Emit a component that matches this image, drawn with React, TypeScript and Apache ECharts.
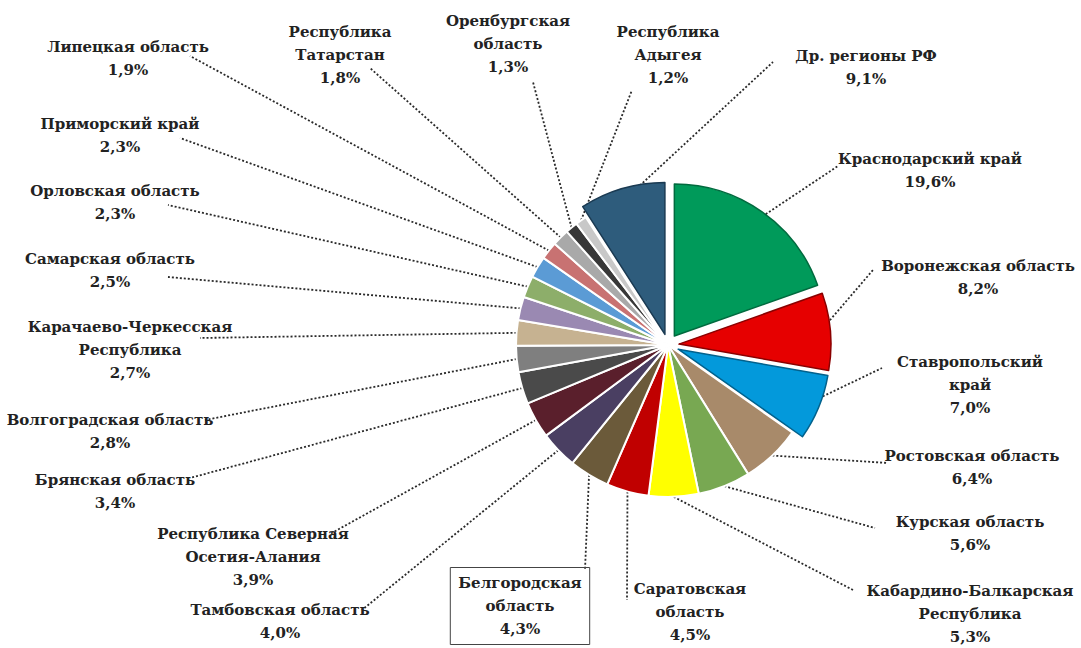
import React, { useEffect, useRef } from 'react';
import * as echarts from 'echarts';

const regions: string[] = [
  'Краснодарский край',
  'Воронежская область',
  'Ставропольский\nкрай',
  'Ростовская область',
  'Курская область',
  'Кабардино-Балкарская\nРеспублика',
  'Саратовская\nобласть',
  'Белгородская\nобласть',
  'Тамбовская область',
  'Республика Северная\nОсетия-Алания',
  'Брянская область',
  'Волгоградская область',
  'Карачаево-Черкесская\nРеспублика',
  'Самарская область',
  'Орловская область',
  'Приморский край',
  'Липецкая область',
  'Республика\nТатарстан',
  'Оренбургская\nобласть',
  'Республика\nАдыгея',
  'Др. регионы РФ',
];

const shares: number[] = [
  19.6, 8.2, 7.0, 6.4, 5.6, 5.3, 4.5, 4.3, 4.0, 3.9, 3.4, 2.8, 2.7, 2.5, 2.3, 2.3, 1.9, 1.8, 1.3, 1.2, 9.1,
];

const sliceColors: string[] = [
  '#009a5a', '#e60000', '#0399db', '#a88a6a', '#78a852', '#ffff00', '#c00000', '#6b5a3a',
  '#4a3f62', '#5a1f2c', '#4a4a4a', '#7f7f7f', '#c6b291', '#9a89b2', '#8dae6a', '#5b9bd5',
  '#c87272', '#a9a9a9', '#383838', '#c8c8c8', '#2e5c7c',
];

const edgeColors: string[] = ['#006a3e', '#8a0000', '#02618c', '', '', '', '', '', '', '', '', '', '', '', '', '', '', '', '', '', '#1a3a52'];

const explodedSlices: number[] = [0, 1, 2, 20];

// label block centre (x, y) and leader end point (x, y), in pixels
const labelSpots: number[][] = [
  [930, 170, 838, 166],
  [978, 277, 873, 270],
  [970, 385, 882, 368],
  [972, 467, 888, 463],
  [970, 533, 875, 528],
  [970, 614, 853, 590],
  [690, 612, 627, 600],
  [520, 606, 585, 570],
  [280, 621, 362, 610],
  [253, 557, 330, 534],
  [115, 491, 190, 478],
  [110, 431, 205, 420],
  [130, 350, 200, 338],
  [110, 270, 168, 277],
  [115, 202, 168, 205],
  [120, 135, 180, 138],
  [128, 58, 190, 56],
  [340, 55, 370, 68],
  [508, 44, 533, 82],
  [668, 55, 632, 90],
  [866, 67, 773, 62],
];

const fmt = (v: number) => v.toFixed(1).replace('.', ',') + '%';

const FONT = 'DejaVu Serif';

export default function App() {
  const ref = useRef<HTMLDivElement>(null);
  useEffect(() => {
    const chart = echarts.init(ref.current as HTMLDivElement, null, { renderer: 'svg' });
    const sliceData = regions.map((name, i) => {
      const exploded = explodedSlices.includes(i);
      const itemStyle = exploded
        ? { color: sliceColors[i], borderColor: edgeColors[i], borderWidth: 1.5 }
        : { color: sliceColors[i], borderColor: '#ffffff', borderWidth: 2 };
      return { name, value: shares[i], selected: exploded, itemStyle, select: { itemStyle } };
    });
    const labelData = regions.map((name, i) => ({
      name,
      value: shares[i],
      itemStyle: { color: 'rgba(0,0,0,0)', borderWidth: 0 },
      label:
        i === 7
          ? { borderColor: '#444', borderWidth: 1, padding: [5, 8, 3, 8] }
          : undefined,
    }));
    chart.setOption({
      animation: false,
      backgroundColor: '#ffffff',
      textStyle: { fontFamily: FONT },
      series: [
        {
          type: 'pie',
          z: 1,
          silent: true,
          center: [668, 345],
          radius: 152,
          startAngle: 90,
          clockwise: true,
          avoidLabelOverlap: false,
          emphasis: { disabled: true },
          label: {
            show: true,
            position: 'outside',
            formatter: (p: any) => `${p.name}\n${fmt(p.value)}`,
            fontFamily: FONT,
            fontWeight: 'bold',
            fontSize: 15,
            lineHeight: 23,
            color: '#222',
            align: 'center',
          },
          labelLine: {
            show: true,
            length: 10,
            length2: 10,
            lineStyle: { color: '#2a2a2a', width: 1.8, type: [2, 2] },
          },
          labelLayout: (params: any) => {
            const s = labelSpots[params.dataIndex];
            const start = params.labelLinePoints ? params.labelLinePoints[0] : [s[2], s[3]];
            return {
              x: s[0],
              y: s[1],
              align: 'center',
              verticalAlign: 'middle',
              labelLinePoints: [start, [s[2], s[3]], [s[2], s[3]]],
            };
          },
          data: labelData,
        },
        {
          type: 'pie',
          z: 2,
          center: [668, 345],
          radius: 152,
          startAngle: 90,
          clockwise: true,
          selectedMode: 'multiple',
          selectedOffset: 11,
          emphasis: { disabled: true },
          label: { show: false },
          labelLine: { show: false },
          data: sliceData,
        },
      ],
    });
    return () => chart.dispose();
  }, []);
  return (
    <div
      ref={ref}
      style={{ position: 'fixed', left: 0, top: 0, width: 1081, height: 648 }}
    />
  );
}
